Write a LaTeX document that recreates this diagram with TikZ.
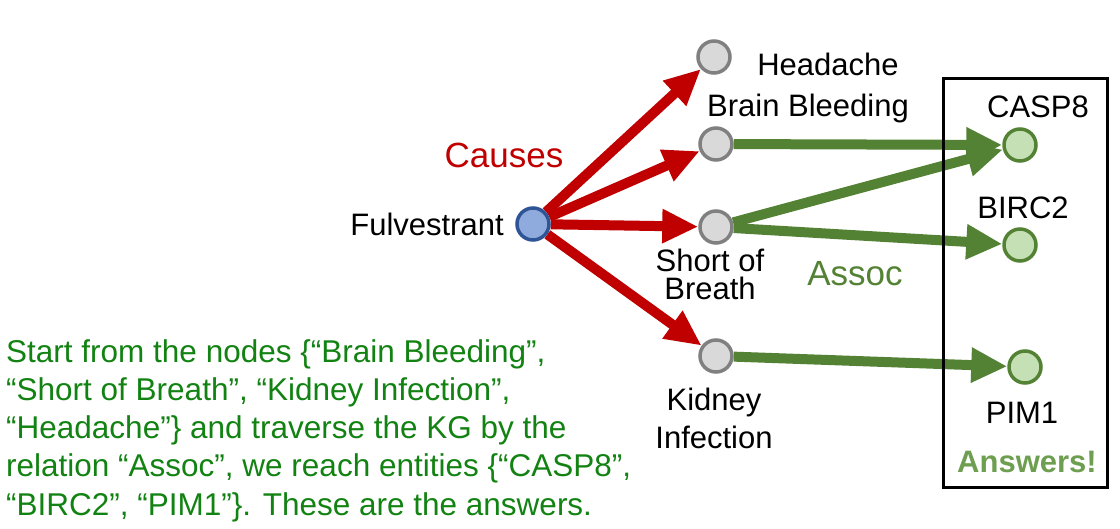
\documentclass[tikz,border=0pt]{standalone}
\usepackage{fontspec}
\setmainfont{Liberation Sans}
\usetikzlibrary{arrows.meta,backgrounds}
\definecolor{causered}{RGB}{192,0,0}
\definecolor{assocgreen}{RGB}{84,130,53}
\definecolor{answergreen}{RGB}{110,158,80}
\definecolor{textgreen}{RGB}{18,130,18}
\definecolor{kgblue}{RGB}{143,170,220}
\definecolor{kgblueedge}{RGB}{47,85,151}
\definecolor{kggray}{RGB}{217,217,217}
\definecolor{kggrayedge}{RGB}{128,128,128}
\definecolor{kggreen}{RGB}{197,224,180}

\tikzset{
  entity/.style={circle, minimum size=32pt, inner sep=0pt, line width=3.5pt},
  drug/.style={entity, fill=kgblue, draw=kgblueedge},
  symptom/.style={entity, fill=kggray, draw=kggrayedge},
  answer/.style={entity, fill=kggreen, draw=assocgreen},
  causes/.style={draw=causered, line width=10pt, -{Triangle[length=36pt,width=32pt]}},
  assoc/.style={draw=assocgreen, line width=10pt, -{Triangle[length=36pt,width=33pt]}},
  lbl/.style={inner sep=0pt, font=\fontsize{31}{28}\selectfont},
}

\begin{document}
\begin{tikzpicture}[x=1pt,y=-1pt]
                \useasboundingbox (0,0) rectangle (1120,528);

                % Define the entities
                \node[drug] (ful) at (533,224) {};
                \node[symptom] (head) at (714,57) {};
                \node[symptom] (brain) at (716,144) {};
                \node[symptom] (breath) at (716,227) {};
                \node[symptom] (kidney) at (716,356) {};
                \node[answer] (casp) at (1020,145) {};
                \node[answer] (birc) at (1020,245) {};
                \node[answer] (pim) at (1025,367) {};

                % Define the entity labels
                \node[lbl, anchor=base] (fullbl) at (427,235) {Fulvestrant};
                \node[lbl, anchor=base] (headlbl) at (828,75) {Headache};
                \node[lbl, anchor=base] (brainlbl) at (808,116) {Brain Bleeding};
                \node[lbl, anchor=north, align=center] (breathlbl) at (710,249) {Short of\\Breath};
                \node[lbl, anchor=north, align=center, font=\fontsize{31}{38}\selectfont] (kidneylbl) at (714,388) {Kidney\\Infection};
                \node[lbl, anchor=base] (casplbl) at (1038,117) {CASP8};
                \node[lbl, anchor=base] (birclbl) at (1023,218) {BIRC2};
                \node[lbl, anchor=base] (pimlbl) at (1022,423) {PIM1};

                % Define the relation labels
                \node[lbl, anchor=base, text=causered, font=\fontsize{35}{35}\selectfont] (causeslbl) at (504,167) {Causes};
                \node[lbl, anchor=base, text=assocgreen, font=\fontsize{35}{35}\selectfont] (assoclbl) at (855,285) {Assoc};

                % Define the answer box
                \draw[line width=3pt] (943.5,78.5) rectangle (1107.5,487.5);
                \node[lbl, anchor=base, text=answergreen, font=\fontsize{31}{31}\selectfont\bfseries] (answerslbl) at (1027,472) {Answers!};

                % Define the edges
                \begin{scope}[on background layer]
                \draw[causes] (ful) -- (head);
                \draw[causes] (ful) -- (brain);
                \draw[causes] (ful) -- (breath);
                \draw[causes] (ful) -- (kidney);
                \draw[assoc] (brain) -- (casp);
                \draw[assoc] (breath) -- (casp);
                \draw[assoc] (breath) -- (birc);
                \draw[assoc] (kidney) -- (pim);
                \end{scope}

                % Add the explanation
                \node[anchor=north west, align=left, inner sep=0pt, text=textgreen, font=\fontsize{31.5}{38.25}\selectfont] (explain) at (6,339)
                  {Start from the nodes \{“Brain Bleeding”,\\
                   “Short of Breath”, “Kidney Infection”,\\
                   “Headache”\} and traverse the KG by the\\
                   relation “Assoc”, we reach entities \{“CASP8”,\\
                   “BIRC2”, “PIM1”\}. These are the answers.};

            \end{tikzpicture}
\end{document}
